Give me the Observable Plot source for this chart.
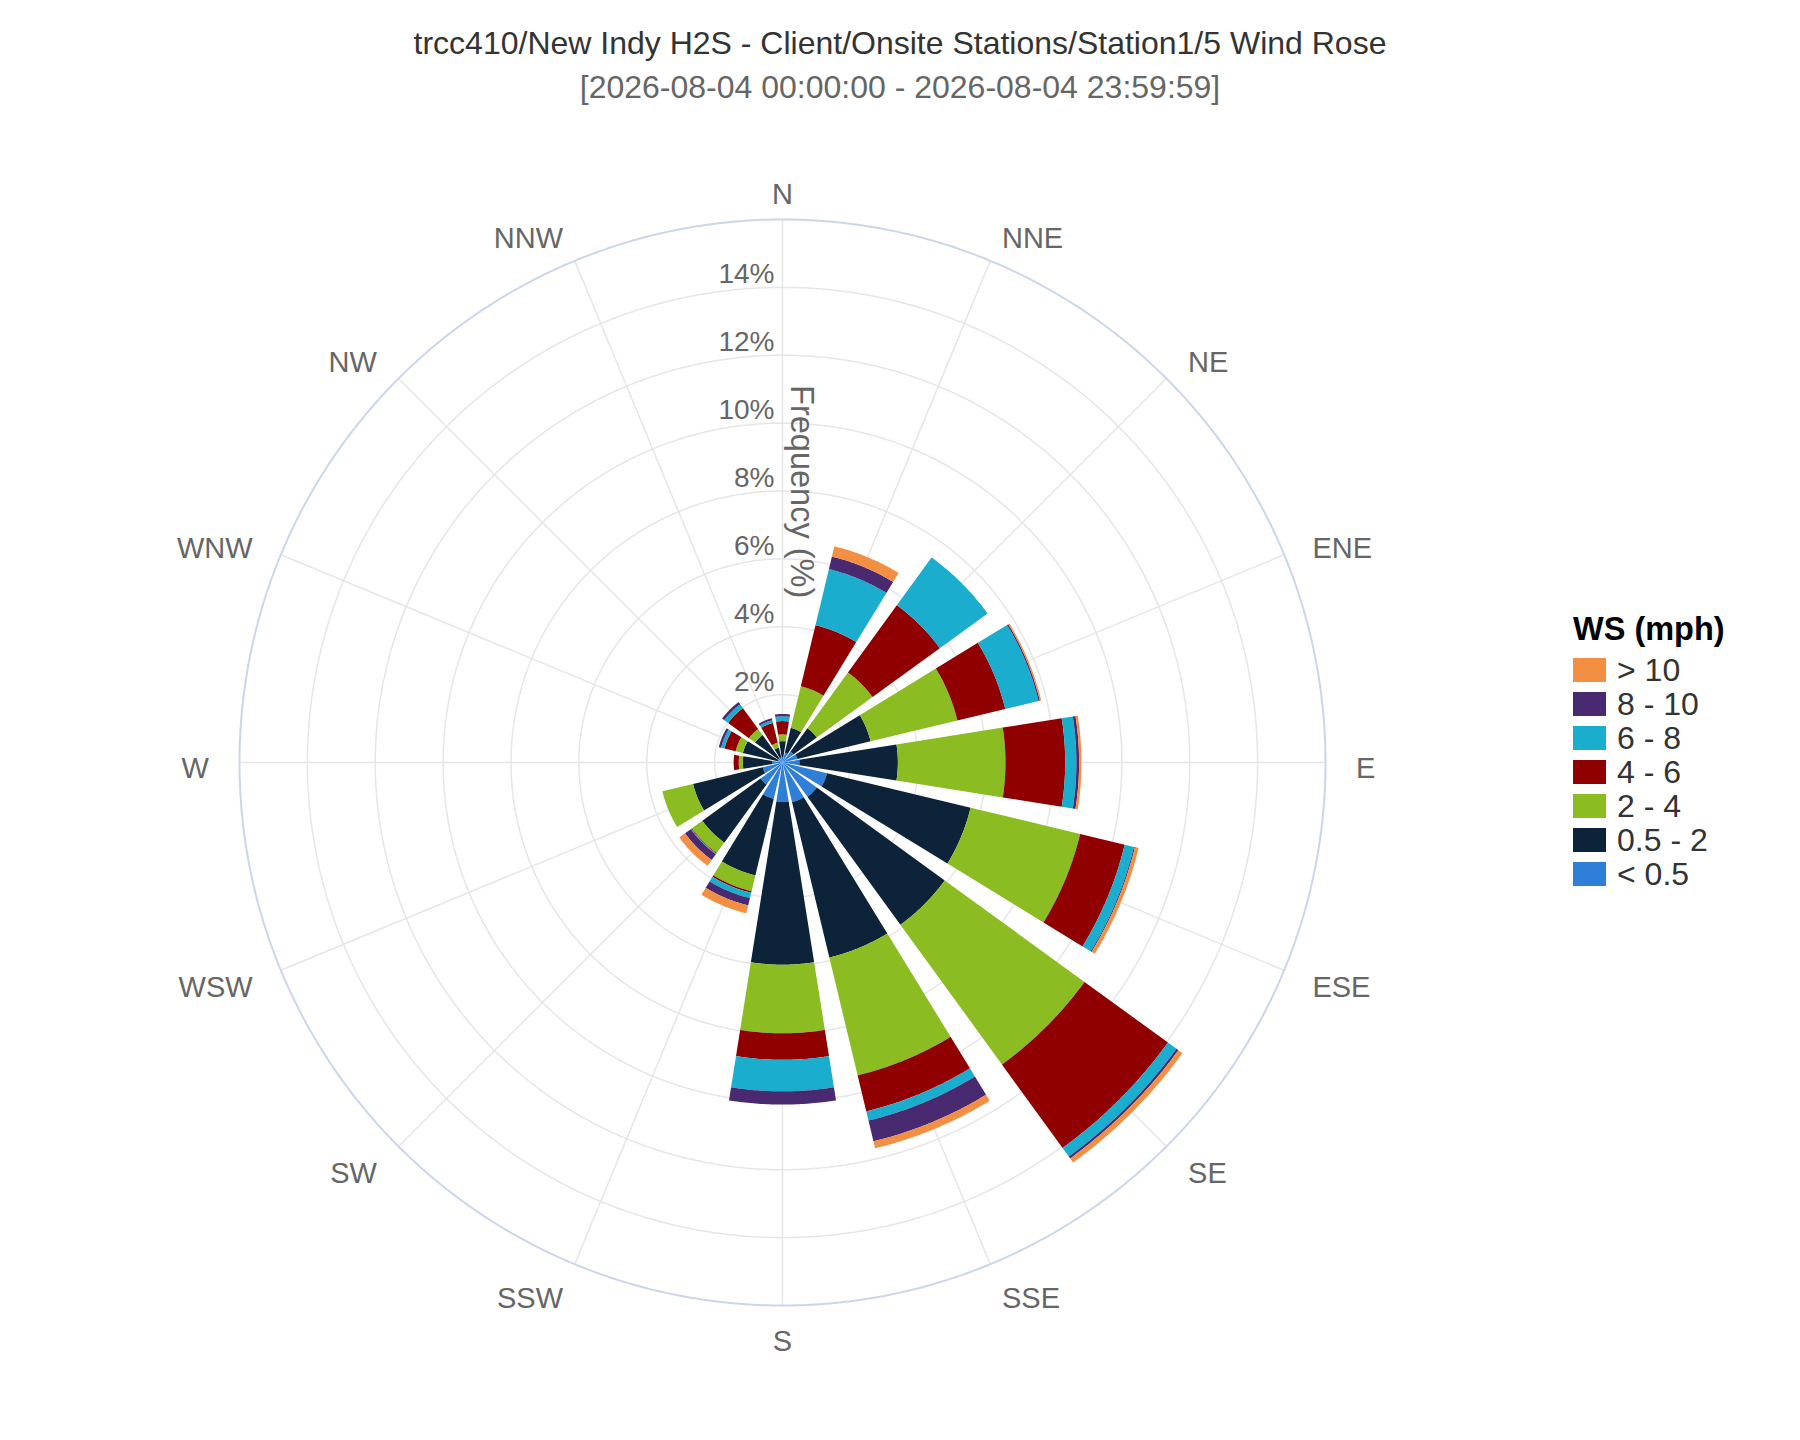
<!DOCTYPE html>
<html>
<head>
<meta charset="utf-8">
<script src="https://cdn.jsdelivr.net/npm/d3@7"></script>
<script src="https://cdn.jsdelivr.net/npm/@observablehq/plot@0.6"></script>
<style>
  body { margin: 0; background: #fff; font-family: "Liberation Sans", Arial, sans-serif; }
  #wrap { position: relative; width: 1800px; height: 1440px; overflow: hidden; }
  #head { position: relative; width: 1800px; height: 120px; }
  .t { position: absolute; left: 0; width: 1800px; text-align: center; font-size: 32px; line-height: 32px; white-space: nowrap; }
  #title { top: 27px; color: #333; }
  #sub { top: 71px; color: #666; }
  #legend { position: absolute; left: 1573px; top: 613px; }
  #legend .lt { font-size: 32.5px; line-height: 33px; font-weight: bold; color: #000; height: 40px; white-space: nowrap; }
  #legend .row { display: flex; align-items: center; height: 34px; white-space: nowrap; }
  #legend .sw { width: 33px; height: 24px; margin-right: 11px; }
  #legend .lab { font-size: 32px; line-height: 34px; color: #333; }
</style>
</head>
<body>
<div id="wrap">
  <div id="head">
    <div class="t" id="title">trcc410/New Indy H2S - Client/Onsite Stations/Station1/5 Wind Rose</div>
    <div class="t" id="sub">[2026-08-04 00:00:00 - 2026-08-04 23:59:59]</div>
  </div>
  <div id="chart"></div>
  <div id="legend"></div>
</div>
<script>
// ---- data ----
const directions = ["N","NNE","NE","ENE","E","ESE","SE","SSE","S","SSW","SW","WSW","W","WNW","NW","NNW"];
const speedBins = ["< 0.5","0.5 - 2","2 - 4","4 - 6","6 - 8","8 - 10","> 10"];
const binColors = ["#2f7ed8","#0d233a","#8bbc21","#910000","#1aadce","#492970","#f28f43"];
const legendTitle = "WS (mph)";
const radialTicks = [2, 4, 6, 8, 10, 12, 14];
const radialMax = 16;
const radialTitle = "Frequency (%)";

// frequency (%) per direction for each wind-speed bin
const freqBelow05 = [0.15,0.30,0.40,0.45,0.50,1.35,1.25,1.20,1.16,1.10,0.80,0.60,0.30,0.15,0.15,0.15];
const freq05to2   = [0.48,0.75,0.85,2.22,2.90,4.35,4.66,4.71,4.80,2.32,2.12,2.11,0.87,1.05,0.85,0.30];
const freq2to4    = [0.20,1.26,2.03,2.63,3.17,3.32,5.09,3.57,2.02,0.48,0.38,0.93,0.12,0.22,0.22,0.15];
const freq4to6    = [0.39,1.85,2.45,1.45,1.76,1.35,3.04,1.09,0.78,0.05,0.02,0.00,0.15,0.34,0.76,0.60];
const freq6to8    = [0.14,1.70,1.74,1.01,0.33,0.28,0.31,0.28,0.93,0.16,0.02,0.00,0.00,0.10,0.14,0.08];
const freq8to10   = [0.07,0.38,0.00,0.04,0.08,0.03,0.07,0.63,0.39,0.22,0.21,0.00,0.00,0.07,0.08,0.06];
const freqAbove10 = [0.00,0.31,0.00,0.04,0.07,0.11,0.15,0.21,0.00,0.24,0.21,0.00,0.00,0.00,0.00,0.00];

const series = [freqBelow05, freq05to2, freq2to4, freq4to6, freq6to8, freq8to10, freqAbove10];

// ---- build stacked sectors (lon/lat on a sphere, azimuthal projection) ----
const step = 360 / directions.length;
const halfWidth = step * 0.4;
const lon = (bearing) => 180 - bearing;           // compass bearing -> longitude
const lat = (r) => 90 - r;                         // radial value -> latitude

const table = directions.map((dir, i) => {
  const o = {dir, bearing: i * step};
  speedBins.forEach((b, j) => o[b] = series[j][i]);
  return o;
});
const stacked = d3.stack().keys(speedBins)(table);

const sectors = [];
stacked.forEach(layer => {
  layer.forEach(([r0, r1], i) => {
    if (!(r1 - r0 > 0)) return;
    const b = table[i].bearing;
    const a0 = b - halfWidth, a1 = b + halfWidth;
    const inner = Math.max(r0, 0.001);
    const ring = [];
    const n = 40;
    for (let k = 0; k <= n; k++) { const a = a0 + (a1 - a0) * k / n; ring.push([lon(a), lat(r1)]); }
    for (let k = n; k >= 0; k--) { const a = a0 + (a1 - a0) * k / n; ring.push([lon(a), lat(inner)]); }
    ring.push(ring[0]);
    let f = {type: "Feature", properties: {bin: layer.key, dir: table[i].dir}, geometry: {type: "Polygon", coordinates: [ring]}};
    if (d3.geoArea(f) > 2 * Math.PI) f.geometry.coordinates = [ring.slice().reverse()];
    sectors.push(f);
  });
});

const circle = (r) => d3.geoCircle().center([0, 90]).radius(r).precision(0.5)();
const idx = directions.map((d, i) => i);
const rightSide = idx.filter(i => i > 0 && i < 8);
const leftSide = idx.filter(i => i > 8);
const middle = [0, 8];
const labelR = 16.9;
const labelDy = 6;
const font = "Liberation Sans, Arial, sans-serif";

const chart = Plot.plot({
  width: 1800,
  height: 1320,
  marginLeft: 239,
  marginRight: 475,
  marginTop: 99,
  marginBottom: 135,
  projection: {type: "azimuthal-equidistant", rotate: [0, -90], domain: circle(radialMax), inset: 0, clip: false},
  color: {domain: speedBins, range: binColors},
  style: {fontFamily: font, background: "white", overflow: "visible"},
  marks: [
    Plot.geo(radialTicks, {geometry: r => circle(r), stroke: "#e6e6e6", strokeWidth: 1.5, fill: "none"}),
    Plot.link(idx, {x1: i => lon(i * step), y1: lat(0), x2: i => lon(i * step), y2: lat(radialMax), stroke: "#e6e6e6", strokeWidth: 1.5}),
    Plot.geo(sectors, {fill: d => d.properties.bin}),
    Plot.geo([radialMax], {geometry: r => circle(r), stroke: "#ccd6eb", strokeWidth: 2, fill: "none"}),
    Plot.text(radialTicks, {x: lon(0), y: r => lat(r), text: r => r + "%", textAnchor: "end", dx: -8, dy: -13, fontSize: 28, fill: "#666"}),
    Plot.text([radialTitle], {x: lon(0), y: lat(7.98), text: d => d, rotate: 90, dx: 19, fontSize: 32.5, fill: "#666"}),
    Plot.text(rightSide, {x: i => lon(i * step), y: lat(labelR), text: i => directions[i], textAnchor: "start", dy: labelDy, fontSize: 29, fill: "#666"}),
    Plot.text(leftSide, {x: i => lon(i * step), y: lat(labelR), text: i => directions[i], textAnchor: "end", dy: labelDy, fontSize: 29, fill: "#666"}),
    Plot.text(middle, {x: i => lon(i * step), y: lat(labelR), text: i => directions[i], textAnchor: "middle", dy: labelDy, fontSize: 29, fill: "#666"})
  ]
});
document.getElementById("chart").appendChild(chart);

// ---- legend (from the plot's color scale) ----
const color = chart.scale("color");
const legend = document.getElementById("legend");
const lt = document.createElement("div");
lt.className = "lt";
lt.textContent = legendTitle;
legend.appendChild(lt);
color.domain.slice().reverse().forEach((bin) => {
  const row = document.createElement("div");
  row.className = "row";
  const sw = document.createElement("div");
  sw.className = "sw";
  sw.style.background = color.apply(bin);
  const lab = document.createElement("div");
  lab.className = "lab";
  lab.textContent = bin;
  row.appendChild(sw);
  row.appendChild(lab);
  legend.appendChild(row);
});
</script>
</body>
</html>
